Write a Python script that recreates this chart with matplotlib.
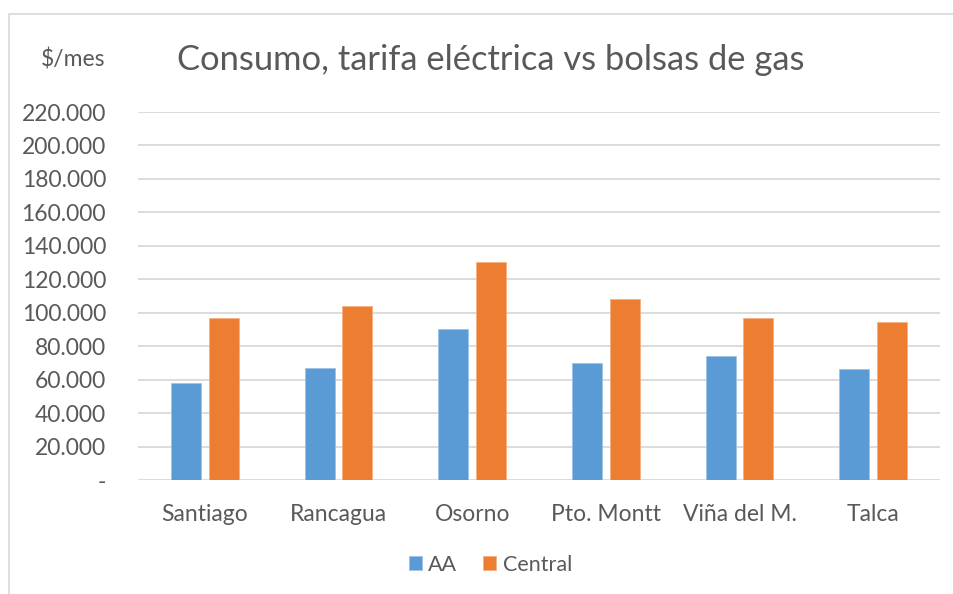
import numpy as np
import matplotlib.pyplot as plt
from matplotlib.patches import Rectangle

ciudades = ["Santiago", "Rancagua", "Osorno", "Pto. Montt", "Viña del M.", "Talca"]
aa = [58000, 67000, 90000, 69800, 74400, 66200]
central = [97000, 104000, 130600, 108200, 97000, 94400]
yticks = [0, 20000, 40000, 60000, 80000, 100000, 120000, 140000, 160000, 180000, 200000, 220000]

azul = "#5B9BD5"
naranja = "#ED7D31"
gris = "#595959"

plt.rcParams['font.family'] = ['Lato', 'DejaVu Sans']

fig = plt.figure(figsize=(9.54, 5.94), dpi=100)
ax = fig.add_axes([0.1447, 0.1919, 0.8407, 0.6195])

x = np.arange(len(ciudades))
w = 0.224
ax.bar(x - 0.141, aa, w, color=azul, edgecolor="#9DC3E6", linewidth=0.6, label="AA", zorder=3)
ax.bar(x + 0.141, central, w, color=naranja, edgecolor="#F4B183", linewidth=0.6, label="Central", zorder=3)

ax.set_xlim(-0.5, len(ciudades) - 0.5)
ax.set_ylim(0, 220000)
ax.set_yticks(yticks)
ax.set_yticklabels(["-"] + [f"{v:,}".replace(",", ".") for v in yticks[1:]])
ax.set_xticks(x)
ax.set_xticklabels(ciudades)
ax.tick_params(axis="both", length=0, labelsize=16.5, colors=gris)
ax.tick_params(axis="y", pad=23)
ax.tick_params(axis="x", pad=17)
ax.yaxis.grid(True, color="#D9D9D9", linewidth=1.3, zorder=0)
for s in ax.spines.values():
    s.set_visible(False)

fig.text(0.514, 0.899, "Consumo, tarifa eléctrica vs bolsas de gas", ha="center", va="center",
         fontsize=24.8, color=gris)
fig.text(0.077, 0.899, "$/mes", ha="center", va="center", fontsize=16.5, color=gris)

fig.legend(loc="center", bbox_to_anchor=(0.514, 0.049), ncol=2, frameon=False,
           fontsize=15.5, handlelength=0.6, handleheight=0.6, handletextpad=0.3,
           columnspacing=1.2, labelcolor=gris)

# borde del área del gráfico
fig.patches.append(Rectangle((0.009, -0.05), 1.2, 1.026, transform=fig.transFigure,
                             fill=False, edgecolor="#D9D9D9", linewidth=1.2))

fig.savefig("out.png", dpi=100)
